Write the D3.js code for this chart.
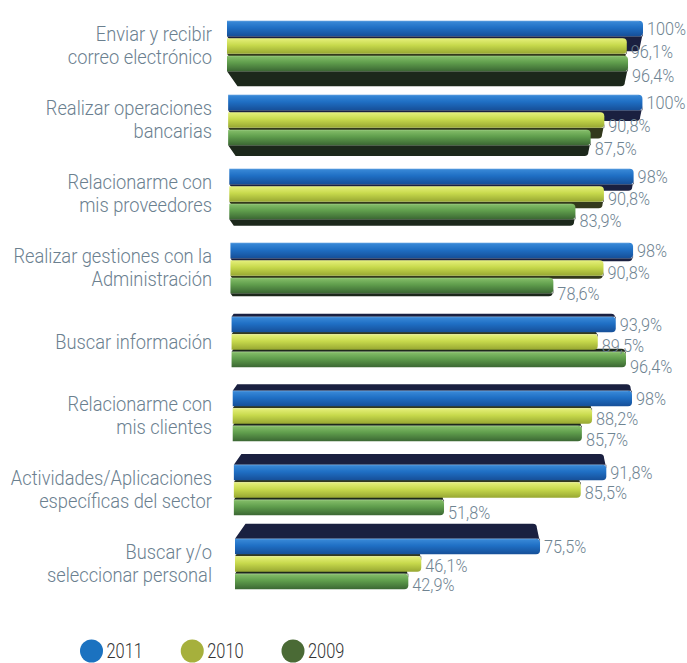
<!DOCTYPE html>
<html>
<head>
<meta charset="utf-8">
<script src="https://cdn.jsdelivr.net/npm/d3@7"></script>
<style>
  html, body { margin: 0; padding: 0; background: #ffffff; }
  svg { display: block; }
</style>
</head>
<body>
<script>
// Uses of the Internet by companies, by year (percentages)
const categories = [
  "Enviar y recibir\ncorreo electrónico",
  "Realizar operaciones\nbancarias",
  "Relacionarme con\nmis proveedores",
  "Realizar gestiones con la\nAdministración",
  "Buscar información",
  "Relacionarme con\nmis clientes",
  "Actividades/Aplicaciones\nespecíficas del sector",
  "Buscar y/o\nseleccionar personal"
];
const years = ["2011", "2010", "2009"];
const values2011 = [100, 100, 98, 98, 93.9, 98, 91.8, 75.5];
const values2010 = [96.1, 90.8, 90.8, 90.8, 89.5, 88.2, 85.5, 46.1];
const values2009 = [96.4, 87.5, 83.9, 78.6, 96.4, 85.7, 51.8, 42.9];

const seriesValues = [values2011, values2010, values2009];
const frontStops = [
  ["#3b8bd9", "#1f6fc4", "#164f98"],
  ["#e6f07c", "#c7d94c", "#97a732"],
  ["#87c06b", "#5f9d4c", "#3b6733"]
];
const faceColors = ["#1a2040", "#33391c", "#1c281b"];
const legendColors = ["#1b72c0", "#a6b03c", "#4a6a35"];

const W = 687, H = 663;
const FONT = "Roboto, 'Liberation Sans', sans-serif";
const svg = d3.select("body").append("svg").attr("width", W).attr("height", H);

const defs = svg.append("defs");
frontStops.forEach((stops, s) => {
  const g = defs.append("linearGradient")
    .attr("id", "grad" + s)
    .attr("x1", 0).attr("y1", 0).attr("x2", 0).attr("y2", 1);
  [0, 0.45, 1].forEach((o, j) => g.append("stop").attr("offset", o).attr("stop-color", stops[j]));
});

const n = categories.length;
const y = d3.scalePoint().domain(categories).range([46, 564]);
// slight perspective: lower groups start a little further right
const xFor = i => d3.scaleLinear().domain([0, 100])
  .range([227 + 8 * i / (n - 1), 643 - 4 * i / (n - 1)]);

const barH = 15.5, step = 17.5, r = 4;
const fmt = d3.formatLocale({ decimal: ",", thousands: ".", grouping: [3], currency: ["", ""] }).format(".1f");
const label = v => (Number.isInteger(v) ? v : fmt(v)) + "%";

// condensed text: a regular face squeezed horizontally
function condensedText(parent, x, yPos, sx) {
  return parent.append("g")
    .attr("transform", `translate(${x},${yPos}) scale(${sx},1)`)
    .append("text")
    .attr("font-family", FONT);
}

const textColor = "#6b808f";
const barsLayer = svg.append("g");
const labelsLayer = svg.append("g");

categories.forEach((cat, i) => {
  const xs = xFor(i);
  const yc = y(cat);
  let d = (i - 3.5) * 4.3;           // depth of the visible top (+) or bottom (-) face
  if (Math.abs(d) < 3) d = d < 0 ? -3 : 3;
  const s = Math.abs(d) * 0.7;
  const order = d > 0 ? [2, 1, 0] : [0, 1, 2];
  const g = barsLayer.append("g");

  order.forEach(k => {
    const v = seriesValues[k][i];
    const x0 = xs(0), x1 = xs(v);
    const yT = yc + (k - 1) * step - barH / 2, yB = yT + barH;
    // depth face
    let face;
    if (d > 0) {
      face = `M${x0},${yT}L${x0 + s},${yT - d}L${x1 - s * 0.3 - r},${yT - d}Q${x1 - s * 0.3},${yT - d} ${x1 - s * 0.3},${yT - d + r}L${x1},${yT + r}L${x1},${yT}Z`;
    } else {
      const ad = -d;
      face = `M${x0},${yB}L${x0 + s},${yB + ad}L${x1 - s * 0.3 - r},${yB + ad}Q${x1 - s * 0.3},${yB + ad} ${x1 - s * 0.3},${yB + ad - r}L${x1},${yB - r}L${x1},${yB}Z`;
    }
    g.append("path").attr("d", face).attr("fill", faceColors[k]);
    // front face with rounded end
    const front = `M${x0},${yT}L${x1 - r},${yT}Q${x1},${yT} ${x1},${yT + r}L${x1},${yB - r}Q${x1},${yB} ${x1 - r},${yB}L${x0},${yB}Z`;
    g.append("path").attr("d", front).attr("fill", `url(#grad${k})`);
    g.append("line")
      .attr("x1", x0).attr("x2", x1 - r)
      .attr("y1", yT + 0.5).attr("y2", yT + 0.5)
      .attr("stroke", "#ffffff").attr("stroke-opacity", 0.12);
  });

  // value labels
  const labelStep = 23.5 - 0.6 * i;
  [0, 1, 2].forEach(k => {
    const v = seriesValues[k][i];
    condensedText(labelsLayer, xs(v) + 4, yc - step + k * labelStep, 0.88)
      .attr("dominant-baseline", "central")
      .attr("font-size", 18.5)
      .attr("font-weight", 300)
      .attr("fill", "#6f8492")
      .text(label(v));
  });

  // category label
  const lines = cat.split("\n");
  const lh = 23;
  const t = condensedText(labelsLayer, 212, yc, 0.87)
    .attr("text-anchor", "end")
    .attr("font-size", 21)
    .attr("font-weight", 300)
    .attr("fill", textColor);
  lines.forEach((ln, j) => {
    t.append("tspan")
      .attr("x", 0)
      .attr("y", (j - (lines.length - 1) / 2) * lh)
      .attr("dominant-baseline", "central")
      .text(ln);
  });
});

// legend
const legendX = d3.scalePoint().domain(years).range([91.5, 293]);
const legend = svg.append("g");
years.forEach((yr, k) => {
  legend.append("circle")
    .attr("cx", legendX(yr)).attr("cy", 651).attr("r", 11.5)
    .attr("fill", legendColors[k]);
  condensedText(legend, legendX(yr) + 15, 658, 0.82)
    .attr("font-size", 20)
    .attr("font-weight", 300)
    .attr("fill", "#333333")
    .text(yr);
});
</script>
</body>
</html>
